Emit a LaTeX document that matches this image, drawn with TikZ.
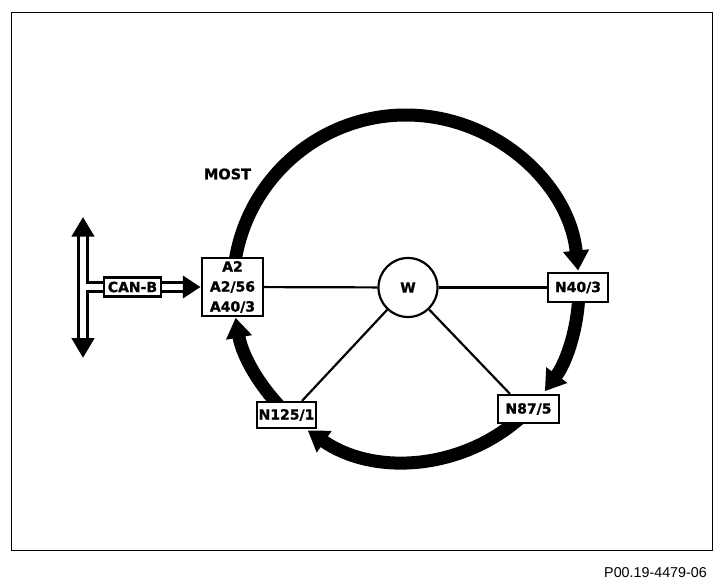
\documentclass[tikz,border=0pt]{standalone}
\usepackage{fontspec}
\newfontfamily\labfont{DejaVu Sans}[BoldFeatures={FakeBold=1.2}]
\newfontfamily\capfont{Liberation Sans}
\usetikzlibrary{arrows.meta,calc}
\begin{document}
\begin{tikzpicture}[x=1pt,y=1pt,
  box/.style={draw, line width=2.2pt, fill=white, inner sep=0pt, align=center,
    font=\labfont\bfseries\fontsize{14}{20}\selectfont},
  ring/.style={line width=13pt, -{Triangle[width=25pt,length=20pt]}},
  wire/.style={line width=2.2pt},
  hollow/.style={line width=2.8pt, double=white, double distance=6pt},
  headfill/.style={fill=black}]
\useasboundingbox (0,0) rectangle (726,-586);
\draw[line width=1.3pt] (11.7,-12.7) rectangle (712.7,-550.5);
% ring centre
\coordinate (c) at (406,-288);
\draw[ring] ($(c)+(175:173)$) arc[start angle=175, end angle=5.8, radius=173];
\draw[ring] ($(c)+(0:173)$) arc[start angle=0, end angle=-36.6, radius=173];
\draw[ring] ($(c)+(-45:173)$) arc[start angle=-45, end angle=-124.6, radius=173];
\draw[ring] ($(c)+(-130:173)$) arc[start angle=-130, end angle=-170.1, radius=173];
% nodes
\node[box, minimum width=61pt, minimum height=58pt] (a2) at (232.5,-287) {A2\\A2/56\\A40/3};
\node[box, minimum width=57pt, minimum height=19pt] (canb) at (132.5,-287) {CAN-B};
\node[box, minimum width=60pt, minimum height=29pt] (n40) at (578,-287.5) {N40/3};
\node[box, minimum width=61pt, minimum height=28pt] (n87) at (528.5,-409) {N87/5};
\node[box, minimum width=59pt, minimum height=26pt] (n125) at (286.5,-415) {N125/1};
\node[box, circle, minimum size=59pt] (w) at (408,-287.5) {W};
\node[font=\labfont\bfseries\fontsize{14.5}{14}\selectfont] (most) at (227.5,-174) {MOST};
\node[font=\capfont\fontsize{14.3}{14}\selectfont, anchor=east, inner sep=0pt] (cap) at (707,-573) {P00.19-4479-06};
% wires
\draw[wire] (a2) -- (w);
\draw[wire] (w) -- (n40);
\draw[wire] (w) -- ([xshift=15.5pt]n125.north);
\draw[wire] (w) -- ([xshift=-18.5pt]n87.north);
% CAN-B bus
\coordinate (bt) at (83,-236.2);
\coordinate (bb) at (83,-338.5);
\coordinate (bj) at (83,-287);
\draw[hollow] (bt) -- (bb) (bj) -- (canb.west);
\fill[headfill] ($(bt)+(-11.7,-0.5)$) -- ($(bt)+(0,19)$) -- ($(bt)+(11.7,-0.5)$) -- cycle;
\fill[headfill] ($(bb)+(-11.7,0.5)$) -- ($(bb)+(0,-19.2)$) -- ($(bb)+(11.7,0.5)$) -- cycle;
\coordinate (ah) at ($(a2.west)+(-18,0)$);
\draw[hollow] (canb.east) -- ($(ah)+(0.5,0)$);
\fill[headfill] ($(ah)+(0,11.5)$) -- ($(a2.west)+(-0.5,0)$) -- ($(ah)+(0,-11.5)$) -- cycle;
\end{tikzpicture}
\end{document}
